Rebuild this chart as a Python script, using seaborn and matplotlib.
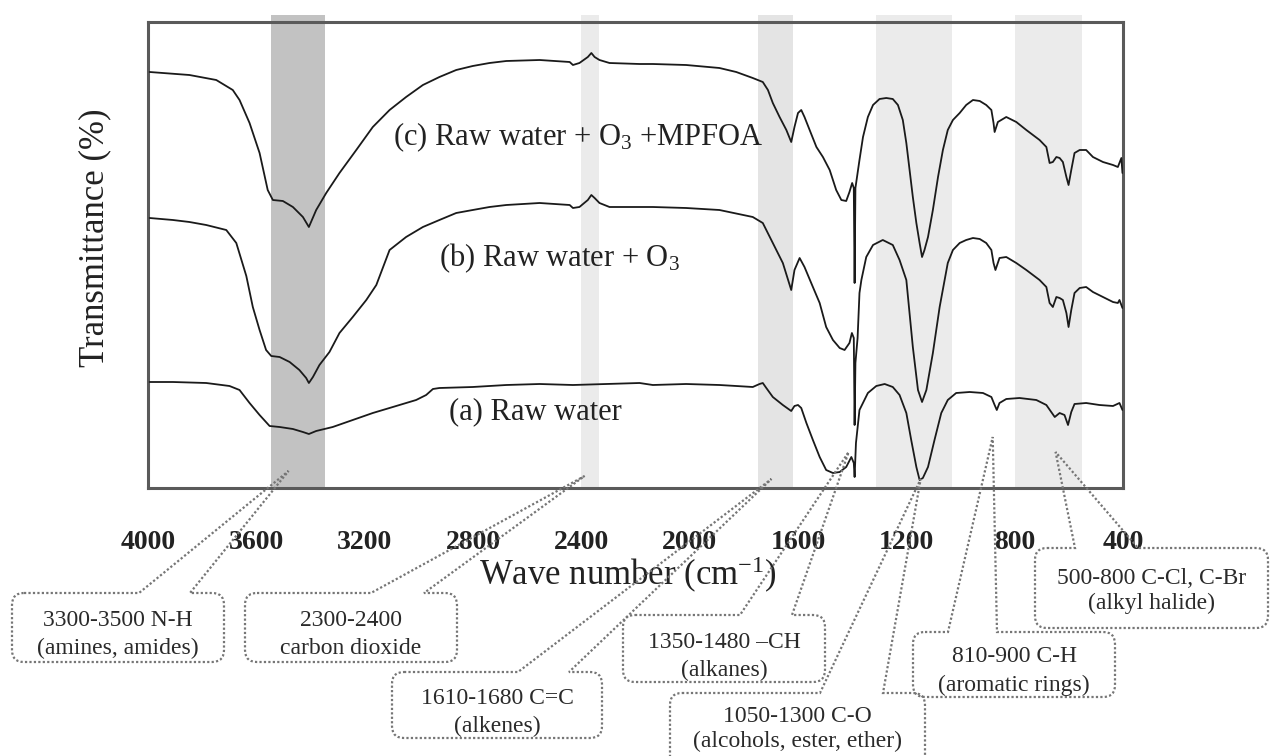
import numpy as np
import pandas as pd
import matplotlib
matplotlib.use("Agg")
import matplotlib.pyplot as plt
import seaborn as sns
from matplotlib.path import Path
from matplotlib.patches import PathPatch

# ---------------- data ----------------
wn_c = [3994, 3847, 3748, 3687, 3662, 3625, 3588, 3558, 3539, 3502, 3465, 3428, 3406, 3379, 3342, 3293,
        3231, 3170, 3108, 3047, 2985, 2924, 2862, 2801, 2739, 2677, 2554, 2443, 2431, 2407, 2376, 2363,
        2351, 2333, 2296, 2185, 2136, 2013, 1890, 1828, 1767, 1730, 1711, 1693, 1668, 1643, 1625, 1613,
        1600, 1588, 1576, 1557, 1532, 1508, 1483, 1459, 1440, 1422, 1410, 1400, 1394, 1391, 1388, 1373,
        1360, 1342, 1323, 1299, 1274, 1250, 1231, 1213, 1200, 1188, 1176, 1163, 1151, 1142, 1133, 1120,
        1102, 1083, 1065, 1047, 1028, 1003, 979, 954, 929, 905, 886, 878, 874, 862, 831, 794, 757, 708,
        683, 671, 659, 646, 634, 622, 609, 601, 591, 579, 560, 536, 511, 474, 437, 419, 406, 402]
tr_c = [416, 413, 408, 398, 388, 365, 335, 298, 288, 287, 281, 271, 261, 278, 295, 315,
        338, 361, 378, 391, 403, 411, 418, 422, 425, 427, 428, 426, 423, 425, 431, 435,
        431, 428, 425, 424, 424, 423, 420, 416, 410, 406, 398, 385, 371, 358, 346, 361,
        375, 378, 371, 358, 341, 331, 318, 298, 288, 287, 296, 305, 300, 205, 300, 328,
        351, 371, 383, 389, 390, 389, 383, 368, 345, 318, 291, 265, 245, 231, 238, 251,
        278, 311, 338, 358, 368, 375, 383, 388, 387, 383, 378, 365, 356, 366, 371, 366, 358, 348,
        341, 325, 326, 331, 330, 326, 311, 303, 318, 335, 338, 338, 331, 326, 323, 321, 330, 315]

wn_b = [3994, 3908, 3847, 3785, 3711, 3674, 3637, 3613, 3588, 3564, 3545, 3514, 3477, 3441, 3416, 3406,
        3391, 3367, 3330, 3293, 3244, 3194, 3157, 3108, 3047, 2985, 2924, 2862, 2801, 2739, 2677, 2554,
        2443, 2431, 2407, 2376, 2363, 2351, 2333, 2296, 2136, 2013, 1890, 1767, 1730, 1693, 1656, 1625,
        1613, 1594, 1576, 1545, 1520, 1496, 1471, 1446, 1428, 1410, 1401, 1394, 1391, 1388, 1380, 1373,
        1366, 1348, 1323, 1287, 1250, 1225, 1200, 1176, 1157, 1142, 1126, 1102, 1077, 1047, 1028, 1003,
        979, 954, 929, 905, 886, 878, 871, 856, 831, 794, 757, 708, 683, 671, 659, 646, 634, 622, 609,
        601, 591, 579, 560, 536, 511, 474, 437, 419, 413, 402]
tr_b = [270, 268, 266, 263, 258, 245, 212, 181, 158, 138, 132, 131, 126, 118, 110, 105,
        111, 123, 136, 155, 171, 188, 203, 238, 251, 261, 268, 275, 278, 281, 283, 285,
        283, 280, 281, 288, 293, 290, 285, 281, 281, 280, 278, 271, 265, 245, 225, 198,
        218, 230, 221, 201, 185, 161, 148, 140, 138, 145, 155, 150, 63, 125, 150, 195,
        208, 231, 243, 248, 243, 228, 208, 141, 98, 86, 98, 135, 181, 225, 238, 245,
        248, 250, 249, 245, 238, 225, 218, 230, 231, 225, 218, 208, 201, 185, 181, 191, 190, 188, 175,
        161, 178, 195, 200, 201, 196, 191, 186, 185, 188, 180]

wn_a = [3994, 3908, 3785, 3699, 3662, 3625, 3588, 3551, 3514, 3465, 3428, 3406, 3379, 3318, 3244, 3170,
        3096, 3010, 2973, 2948, 2924, 2801, 2677, 2554, 2431, 2308, 2185, 2136, 2013, 1890, 1828, 1767,
        1742, 1730, 1717, 1693, 1656, 1625, 1613, 1600, 1588, 1569, 1545, 1520, 1496, 1471, 1446, 1422,
        1403, 1394, 1391, 1386, 1373, 1342, 1311, 1280, 1250, 1225, 1200, 1182, 1163, 1151, 1139, 1120,
        1096, 1071, 1047, 1016, 966, 917, 886, 874, 866, 856, 831, 782, 720, 683, 665, 652, 634, 616,
        603, 591, 579, 536, 487, 437, 413, 402]
tr_a = [106, 106, 105, 102, 98, 85, 73, 62, 61, 59, 56, 54, 57, 61, 68, 75,
        81, 88, 93, 99, 100, 101, 103, 104, 103, 104, 105, 103, 104, 103, 102, 101,
        104, 105, 100, 91, 83, 77, 82, 83, 80, 65, 48, 31, 18, 15, 16, 21,
        31, 25, 11, 45, 78, 95, 102, 104, 101, 93, 75, 48, 21, 8, 10, 21,
        48, 75, 88, 95, 96, 95, 91, 83, 78, 85, 89, 90, 88, 83, 76, 71, 75, 73,
        63, 76, 84, 85, 83, 82, 85, 78]

series_names = ["(a) Raw water", "(b) Raw water + O3", "(c) Raw water + O3 +MPFOA"]
series_labels = ["(a) Raw water", "(b) Raw water + O$_3$", "(c) Raw water + O$_3$ +MPFOA"]

band_lo = [3346, 2335, 1618, 1031, 551]
band_hi = [3546, 2401, 1747, 1312, 798]

tick_values = [4000, 3600, 3200, 2800, 2400, 2000, 1600, 1200, 800, 400]
tick_labels = ["4000", "3600", "3200", "2800", "2400", "2000", "1600", "1200", "800", "400"]

note_titles = ["3300-3500 N-H", "2300-2400", "1610-1680 C=C", "1350-1480 \u2013CH",
               "1050-1300 C-O", "810-900 C-H", "500-800 C-Cl, C-Br"]
note_subs = ["(amines, amides)", "carbon dioxide", "(alkenes)", "(alkanes)",
             "(alcohols, ester, ether)", "(aromatic rings)", "(alkyl halide)"]
note_wn = [3481, 2388, 1698, 1413, 1147, 881, 649]
note_tr = [17, 12, 9, 36, 9, 51, 36]

# ---------------- style ----------------
sns.set_style("white")
plt.rcParams["font.family"] = ["Liberation Serif", "DejaVu Serif"]
plt.rcParams["mathtext.default"] = "regular"

W, H = 1271, 756
fig = plt.figure(figsize=(W / 100, H / 100), dpi=100)
ax = fig.add_axes([148 / W, 1 - 488 / H, (1123 - 148) / W, (488 - 22) / H])

df = pd.concat([
    pd.DataFrame({"wn": wn_a, "T": tr_a, "s": series_names[0]}),
    pd.DataFrame({"wn": wn_b, "T": tr_b, "s": series_names[1]}),
    pd.DataFrame({"wn": wn_c, "T": tr_c, "s": series_names[2]}),
])

band_colors = ["#c2c2c2", "#ebebeb", "#e4e4e4", "#ebebeb", "#ebebeb"]
for lo, hi, col in zip(band_lo, band_hi, band_colors):
    ax.axvspan(lo, hi, ymin=0, ymax=1.016, color=col, lw=0, zorder=0, clip_on=False)

sns.lineplot(data=df, x="wn", y="T", hue="s", palette=["#1a1a1a"] * 3, sort=False,
             estimator=None, legend=False, linewidth=1.3, ax=ax, zorder=3)

ax.set_xlim(4000, 400)
ax.set_ylim(0, 466)
ax.set_yticks([])
ax.set_xticks(tick_values)
ax.set_xticklabels(tick_labels, fontsize=20, fontweight="bold", color="#222222")
ax.tick_params(axis="x", direction="in", length=8, width=2, color="#555555", pad=30)
for sp in ax.spines.values():
    sp.set_color("#5a5a5a")
    sp.set_linewidth(2.2)
    sp.set_visible(True)

ax.set_xlabel("Wave number (cm$^{-1}$)", fontsize=25, color="#222222")
ax.xaxis.set_label_coords((628 - 148) / 975, (488 - 575) / 466)
ax.xaxis.label.set_verticalalignment("center")
ax.set_ylabel("Transmittance (%)", fontsize=25, color="#222222")
ax.yaxis.set_label_coords((95 - 148) / 975, (488 - 238) / 466)
ax.yaxis.label.set_verticalalignment("center")

# curve labels
label_pos = [(2887, 76), (2924, 230), (3097, 351)]
for (xw, yv), lab in zip(label_pos, series_labels):
    ax.text(xw, yv, lab, fontsize=22, color="#222222", ha="left", va="center", zorder=4)

# ---------------- callouts ----------------
ov = fig.add_axes([0, 0, 1, 1], zorder=5)
ov.set_xlim(0, W)
ov.set_ylim(H, 0)
ov.axis("off")
ov.patch.set_alpha(0)

boxes = [(12, 593, 224, 662, 139, 190),
         (245, 593, 457, 662, 371, 424),
         (392, 672, 602, 738, 518, 569),
         (623, 615, 825, 682, 740, 792),
         (670, 693, 925, 775, 820, 883),
         (913, 632, 1115, 697, 948, 997),
         (1035, 548, 1268, 628, 1075, 1138)]
text_dy = [(27, 55), (27, 55), (26, 54), (27, 55), (23, 48), (25, 53), (31, 55)]

M, L, C = Path.MOVETO, Path.LINETO, Path.CURVE3
for (x0, y0, x1, y1, xa, xb), (d1, d2), t1, t2, wv, tv in zip(boxes, text_dy, note_titles,
                                                               note_subs, note_wn, note_tr):
    px, py = ax.transData.transform((wv, tv))
    tip = (px, H - py)
    r = 12
    verts = [(x0 + r, y0), (xa, y0), tip, (xb, y0), (x1 - r, y0), (x1, y0), (x1, y0 + r),
             (x1, y1 - r), (x1, y1), (x1 - r, y1), (x0 + r, y1), (x0, y1), (x0, y1 - r),
             (x0, y0 + r), (x0, y0), (x0 + r, y0)]
    codes = [M, L, L, L, L, C, C, L, C, C, L, C, C, L, C, C]
    ov.add_patch(PathPatch(Path(verts, codes), facecolor="none", edgecolor="#767676",
                           lw=1.6, ls=(0, (1, 1)), clip_on=False))
    cx = (x0 + min(x1, W)) / 2
    ov.text(cx, y0 + d1, t1, fontsize=17, color="#2a2a2a", ha="center", va="center")
    ov.text(cx, y0 + d2, t2, fontsize=17, color="#2a2a2a", ha="center", va="center")

fig.savefig("out.png", dpi=100)
